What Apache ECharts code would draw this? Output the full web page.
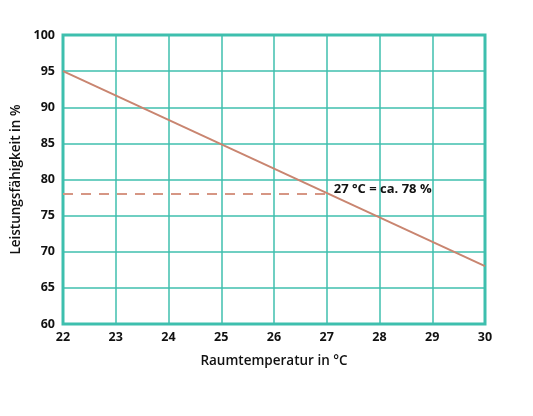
<!DOCTYPE html>
<html>
<head>
<meta charset="utf-8">
<script src="https://cdn.jsdelivr.net/npm/echarts@6/dist/echarts.min.js"></script>
<style>
  html, body { margin: 0; padding: 0; background: #fff; }
  #main { width: 533px; height: 416px; }
</style>
</head>
<body>
<div id="main"></div>
<script>
// Leistungsfähigkeit abhängig von der Raumtemperatur
var temps = [22, 30];
var leistung = [95, 68];
var refTemp = 27;
var refValue = 78;
var refLabel = '27 °C = ca. 78 %';

var teal = '#3fbfae';
var lineColor = '#c98570';

var chart = echarts.init(document.getElementById('main'));

chart.setOption({
    animation: false,
    grid: {
        left: 63, right: 48, top: 35, bottom: 92,
        show: true,
        borderColor: teal,
        borderWidth: 3
    },
    textStyle: { fontFamily: 'Open Sans' },
    xAxis: {
        type: 'value',
        min: 22, max: 30, interval: 1,
        name: 'Raumtemperatur in °C',
        nameLocation: 'middle',
        nameGap: 30,
        nameTextStyle: { color: '#111', fontSize: 13.5, fontWeight: 600 },
        axisLine: { show: false },
        axisTick: { show: false },
        axisLabel: { color: '#111', fontSize: 12.5, fontWeight: 'bold', margin: 7 },
        splitLine: { lineStyle: { color: teal, width: 1.5 } }
    },
    yAxis: {
        type: 'value',
        min: 60, max: 100, interval: 5,
        name: 'Leistungsfähigkeit in %',
        nameLocation: 'middle',
        nameGap: 37,
        nameTextStyle: { color: '#111', fontSize: 13.5, fontWeight: 600 },
        axisLine: { show: false },
        axisTick: { show: false },
        axisLabel: { color: '#111', fontSize: 12.5, fontWeight: 'bold', margin: 8 },
        splitLine: { lineStyle: { color: teal, width: 1.5 } }
    },
    series: [
        {
            type: 'line',
            data: temps.map(function (t, i) { return [t, leistung[i]]; }),
            symbol: 'none',
            lineStyle: { color: lineColor, width: 2 },
            z: 3
        },
        {
            type: 'line',
            data: [[temps[0], refValue], [refTemp, refValue]],
            symbol: 'none',
            lineStyle: { color: '#d69684', width: 2, type: [10, 8] },
            z: 2
        },
        {
            type: 'scatter',
            data: [[refTemp, refValue]],
            symbolSize: 0,
            itemStyle: { opacity: 1 },
            label: {
                show: true,
                position: 'right',
                offset: [2, -5],
                formatter: refLabel,
                color: '#111',
                opacity: 1,
                fontSize: 13,
                fontWeight: 'bold',
                fontFamily: 'Open Sans'
            },
            z: 4
        }
    ]
});
</script>
</body>
</html>
